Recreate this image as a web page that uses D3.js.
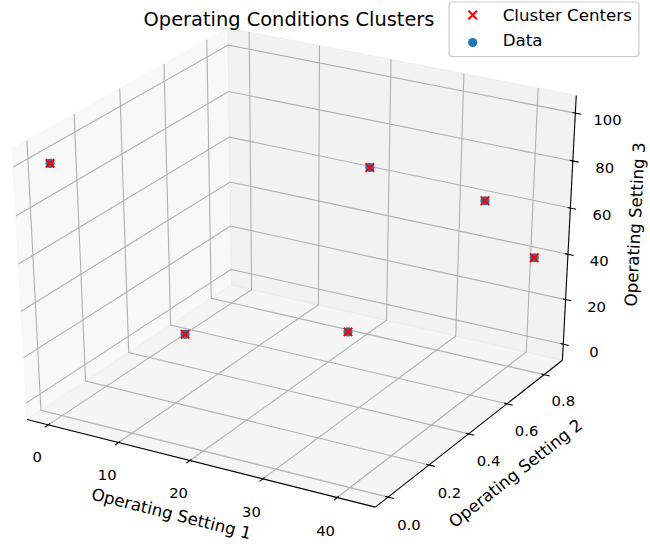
<!DOCTYPE html>
<html>
<head>
<meta charset="utf-8">
<script src="https://cdn.jsdelivr.net/npm/d3@7"></script>
<style>
  body { margin: 0; background: #fff; }
  text { font-family: "DejaVu Sans", sans-serif; fill: #000; }
</style>
</head>
<body>
<div id="container"></div>
<script>
// cluster centres
let centerSetting1 = [0, 10, 20, 25, 35, 42];
let centerSetting2 = [0, 0.25, 0.70, 0.62, 0.84, 0.84];
let centerSetting3 = [100, 20, 0, 80, 60, 40];
// the data points all sit on the same six operating conditions
let dataSetting1 = [0, 10, 20, 25, 35, 42];
let dataSetting2 = [0, 0.25, 0.70, 0.62, 0.84, 0.84];
let dataSetting3 = [100, 20, 0, 80, 60, 40];

let xTicks = [0, 10, 20, 30, 40];
let yTicks = [0, 0.2, 0.4, 0.6, 0.8];
let yTickLabels = ["0.0", "0.2", "0.4", "0.6", "0.8"];
let zTicks = [0, 20, 40, 60, 80, 100];

let w = 650;
let h = 548;

let viz = d3.select("#container").append("svg")
    .attr("width", w)
    .attr("height", h)
    .style("background-color", "white");

// limits = data extent + 5% margin, like matplotlib
function lims(vals) {
  let [a, b] = d3.extent(vals);
  let m = (b - a) * 0.05;
  return [a - m, b + m];
}
let qx = d3.scaleLinear().domain(lims(centerSetting1.concat(dataSetting1))).range([-0.5, 0.5]);
let qy = d3.scaleLinear().domain(lims(centerSetting2.concat(dataSetting2))).range([-0.5, 0.5]);
let qz = d3.scaleLinear().domain(lims(centerSetting3.concat(dataSetting3))).range([-0.5, 0.5]);

// the drawn box sticks out a little past the limits
let lo = -0.5 - 1 / 48;
let hi = 0.5 + 1 / 48;

// camera (default elev 30, azim -60, distance 10)
let elev = 30 * Math.PI / 180;
let azim = -60 * Math.PI / 180;
let dist = 10;
let wv = [Math.cos(elev) * Math.cos(azim), Math.cos(elev) * Math.sin(azim), Math.sin(elev)];
let uv = [-Math.sin(azim), Math.cos(azim), 0];
let vv = [-Math.sin(elev) * Math.cos(azim), -Math.sin(elev) * Math.sin(azim), Math.cos(elev)];
let dot = (a, b) => a[0] * b[0] + a[1] * b[1] + a[2] * b[2];

// projected view coords -> pixels
let px = d3.scaleLinear().domain([-0.095, 0.09]).range([-67.7, 646.4]);
let py = d3.scaleLinear().domain([-0.095, 0.09]).range([540.8, -7.9]);

function project(q) {
  let d = dist - dot(wv, q);
  return [px(dot(uv, q) / d), py(dot(vv, q) / d)];
}
let line = d3.line();
let pathOf = pts => line(pts.map(project));

// panes
let panes = [
  { pts: [[lo, lo, lo], [lo, hi, lo], [lo, hi, hi], [lo, lo, hi]], c: "rgb(242,242,242)" },
  { pts: [[lo, hi, lo], [hi, hi, lo], [hi, hi, hi], [lo, hi, hi]], c: "rgb(230,230,230)" },
  { pts: [[lo, lo, lo], [hi, lo, lo], [hi, hi, lo], [lo, hi, lo]], c: "rgb(236,236,236)" }
];
viz.selectAll(".pane").data(panes).enter()
  .append("path")
    .attr("class", "pane")
    .attr("d", d => pathOf(d.pts) + "Z")
    .attr("fill", d => d.c)
    .attr("stroke", d => d.c)
    .attr("fill-opacity", 0.5)
    .attr("stroke-opacity", 0.5);

// grid lines
let grid = [];
xTicks.forEach(t => grid.push([[qx(t), lo, lo], [qx(t), hi, lo], [qx(t), hi, hi]]));
yTicks.forEach(t => grid.push([[hi, qy(t), lo], [lo, qy(t), lo], [lo, qy(t), hi]]));
zTicks.forEach(t => grid.push([[lo, lo, qz(t)], [lo, hi, qz(t)], [hi, hi, qz(t)]]));
viz.selectAll(".grid").data(grid).enter()
  .append("path")
    .attr("class", "grid")
    .attr("d", pathOf)
    .attr("fill", "none")
    .attr("stroke", "#b0b0b0")
    .attr("stroke-width", 1.1);

// axis lines
let axes = [
  [[lo, lo, lo], [hi, lo, lo]],
  [[hi, hi, lo], [hi, lo, lo]],
  [[hi, hi, lo], [hi, hi, hi]]
];
viz.selectAll(".axisline").data(axes).enter()
  .append("path")
    .attr("class", "axisline")
    .attr("d", pathOf)
    .attr("stroke", "#000")
    .attr("stroke-width", 1.1);

// tick marks
let tin = 0.1 / 12, tout = 0.2 / 12;
let tickSegs = [];
xTicks.forEach(t => tickSegs.push([[qx(t), lo + tin, lo], [qx(t), lo - tout, lo]]));
yTicks.forEach(t => tickSegs.push([[hi - tin, qy(t), lo], [hi + tout, qy(t), lo]]));
zTicks.forEach(t => tickSegs.push([[hi - tin, hi, qz(t)], [hi + tout, hi, qz(t)]]));
viz.selectAll(".tick").data(tickSegs).enter()
  .append("path")
    .attr("class", "tick")
    .attr("d", pathOf)
    .attr("stroke", "#000")
    .attr("stroke-width", 1.1);

// tick labels, pushed out from the box
let tickLabels = [];
xTicks.forEach(t => tickLabels.push({ q: [qx(t), lo - 0.058, lo - 0.094], txt: String(t) }));
yTicks.forEach((t, i) => tickLabels.push({ q: [hi + 0.061, qy(t), lo - 0.088], txt: yTickLabels[i] }));
zTicks.forEach(t => tickLabels.push({ q: [hi + 0.092, hi, qz(t)], txt: String(t) }));
viz.selectAll(".ticklabel").data(tickLabels).enter()
  .append("text")
    .attr("class", "ticklabel")
    .attr("x", d => project(d.q)[0])
    .attr("y", d => project(d.q)[1])
    .attr("text-anchor", "middle")
    .attr("dominant-baseline", "central")
    .attr("font-size", "14.8px")
    .text(d => d.txt);

// axis labels, turned along their edge
function edgeAngle(a, b) {
  let p = project(a), r = project(b);
  let ang = Math.atan2(r[1] - p[1], r[0] - p[0]) * 180 / Math.PI;
  ang = ((ang + 180) % 180 + 180) % 180;
  if (ang > 90) ang -= 180;
  return ang;
}
let sl = 0.13;
let axisLabels = [
  { q: [0, lo - sl, lo - sl], txt: "Operating Setting 1", e: axes[0] },
  { q: [hi + sl, 0, lo - sl], txt: "Operating Setting 2", e: axes[1] },
  { q: [hi + sl, hi + sl, 0], txt: "Operating Setting 3", e: axes[2] }
];
viz.selectAll(".axislabel").data(axisLabels).enter()
  .append("text")
    .attr("class", "axislabel")
    .attr("transform", d => {
      let p = project(d.q);
      return "translate(" + p[0] + "," + p[1] + ") rotate(" + edgeAngle(d.e[0], d.e[1]) + ")";
    })
    .attr("text-anchor", "middle")
    .attr("dominant-baseline", "central")
    .attr("font-size", "16.67px")
    .text(d => d.txt);

// data points
let dataPts = dataSetting1.map((v, i) => project([qx(v), qy(dataSetting2[i]), qz(dataSetting3[i])]));
viz.selectAll(".data").data(dataPts).enter()
  .append("circle")
    .attr("class", "data")
    .attr("cx", d => d[0])
    .attr("cy", d => d[1])
    .attr("r", 4.6)
    .attr("fill", "#1f77b4");

// cluster centres
let xMark = (x, y, r) => "M" + (x - r) + "," + (y - r) + "L" + (x + r) + "," + (y + r) +
  "M" + (x - r) + "," + (y + r) + "L" + (x + r) + "," + (y - r);
let centerPts = centerSetting1.map((v, i) => project([qx(v), qy(centerSetting2[i]), qz(centerSetting3[i])]));
viz.selectAll(".center").data(centerPts).enter()
  .append("path")
    .attr("class", "center")
    .attr("d", d => xMark(d[0], d[1], 4.2))
    .attr("stroke", "red")
    .attr("stroke-width", 2.1)
    .attr("fill", "none");

// title
viz.append("text")
  .attr("x", 289)
  .attr("y", 25.5)
  .attr("text-anchor", "middle")
  .attr("font-size", "19.4px")
  .text("Operating Conditions Clusters");

// legend
let legend = viz.append("g");
legend.append("rect")
  .attr("x", 449).attr("y", 2)
  .attr("width", 190).attr("height", 54.5)
  .attr("rx", 3).attr("ry", 3)
  .attr("fill", "white").attr("fill-opacity", 0.8)
  .attr("stroke", "#cccccc").attr("stroke-width", 1.2);
legend.append("path")
  .attr("d", xMark(472.7, 15, 4.2))
  .attr("stroke", "red").attr("stroke-width", 2.1);
legend.append("circle")
  .attr("cx", 472.7).attr("cy", 42.5).attr("r", 4.6)
  .attr("fill", "#1f77b4");
legend.append("text")
  .attr("x", 502.7).attr("y", 20.7)
  .attr("font-size", "16.67px")
  .text("Cluster Centers");
legend.append("text")
  .attr("x", 502.7).attr("y", 45.7)
  .attr("font-size", "16.67px")
  .text("Data");
</script>
</body>
</html>
